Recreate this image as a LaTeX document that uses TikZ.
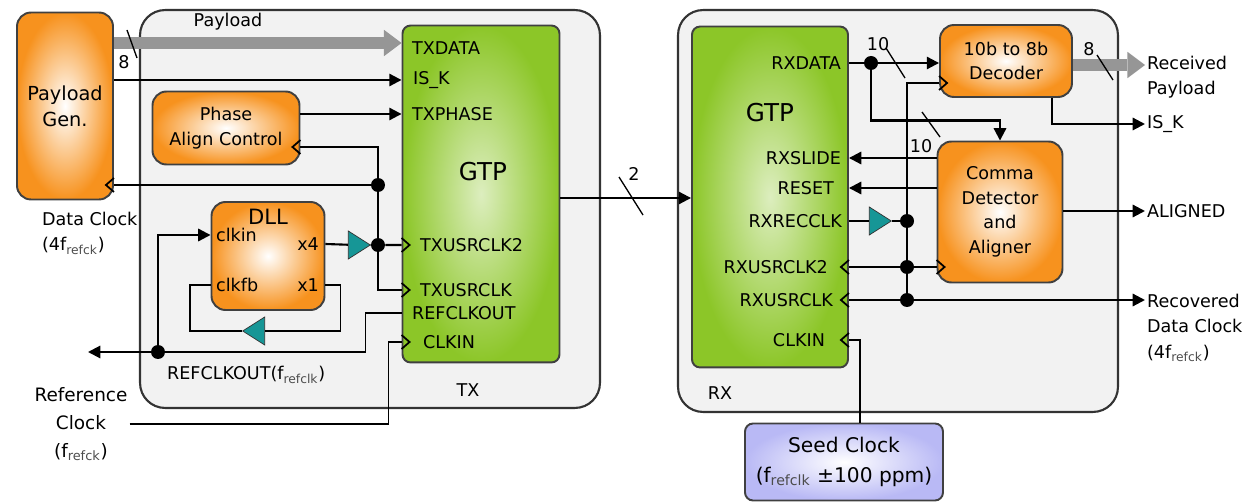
\documentclass[tikz,border=0pt]{standalone}
\usepackage{fontspec}
\setmainfont{DejaVu Sans}
\usetikzlibrary{arrows.meta,shapes.geometric,calc}
\definecolor{boxgray}{RGB}{242,242,242}
\definecolor{blkorange}{RGB}{247,146,30}
\definecolor{gtpgreen}{RGB}{140,198,40}
\definecolor{bufteal}{RGB}{22,150,150}
\definecolor{seedblue}{RGB}{185,185,245}
\definecolor{busgray}{RGB}{150,150,150}
\newcommand\rsub[1]{\textsubscript{\color{black!70}#1}}
\tikzset{
    frame/.style={draw=black!80, line width=1.2pt, fill=boxgray, rounded corners=0.5cm},
    blk/.style={draw=black!75, line width=1.1pt, rounded corners=0.28cm,
        inner color=white, outer color=blkorange, align=center},
    gtp/.style={draw=black!75, line width=1.1pt, rounded corners=0.16cm,
        inner color=white!70!gtpgreen, outer color=gtpgreen},
    seedbox/.style={blk, outer color=seedblue, rounded corners=0.16cm},
    buf/.style={isosceles triangle, isosceles triangle stretches, draw=black!80,
        fill=bufteal, inner sep=0pt, minimum width=0.56cm, minimum height=0.44cm},
    port/.style={inner sep=1pt},
    lbl/.style={inner sep=1pt, align=left, font=\fontsize{10}{14.5}\selectfont},
    sig/.style={line width=1.2pt},
    thinsig/.style={line width=0.85pt},
    arr/.style={sig, -{Triangle[length=7pt,width=7pt]}},
    bus/.style={line width=7pt, draw=busgray, -{Triangle[length=10pt,width=15pt,line width=0pt]}},
    dot/.style={circle, fill=black, inner sep=0pt, minimum size=0.28cm},
    tick/.style={line width=0.75pt},
    clk/.pic={\draw[line width=1pt] (0,-7) -- (8,0) -- (0,7);}
}

\begin{document}
\begin{tikzpicture}[x=0.02cm, y=-0.02cm, font=\fontsize{10}{14}\selectfont]
    \useasboundingbox (0,0) rectangle (1245,503);
    \node[frame, minimum width=9.2cm, minimum height=7.96cm] (txbox) at (370,209) {};
    \node[frame, minimum width=8.8cm, minimum height=8.04cm] (rxbox) at (898,211) {};
    \node (txlbl) at (468,390) {TX};
    \node (rxlbl) at (720,393) {RX};

    % transmitter
    \node[blk, minimum width=1.92cm, minimum height=3.74cm,
        font=\fontsize{11}{15}\selectfont] (gen) at (65,106) {Payload\\Gen.};
    \node[blk, minimum width=2.94cm, minimum height=1.46cm] (phase) at (226,128) {Phase\\Align Control};
    \node[blk, minimum width=2.26cm, minimum height=2.16cm] (dll) at (268,256) {};
    \node[font=\fontsize{12}{14}\selectfont] (dllname) at (268,217) {DLL};
    \node[port, anchor=west] (dllin) at (214,235) {clkin};
    \node[port, anchor=west] (dllfb) at (214,285) {clkfb};
    \node[port, anchor=east] (dllx4) at (321,244) {x4};
    \node[port, anchor=east] (dllx1) at (321,285) {x1};
    \node[gtp, minimum width=3.14cm, minimum height=6.74cm] (txgtp) at (481,194) {};
    \node[font=\fontsize{14}{16}\selectfont] (txname) at (483,172) {GTP};
    \node[port, anchor=west] (txdata) at (410,48) {TXDATA};
    \node[port, anchor=west] (txisk) at (411,80) {IS\_K};
    \node[port, anchor=west] (txphase) at (410,114) {TXPHASE};
    \node[port, anchor=west] (txusr2) at (418,245) {TXUSRCLK2};
    \node[port, anchor=west] (txusr) at (418,290) {TXUSRCLK};
    \node[port, anchor=west] (txref) at (410,313) {REFCLKOUT};
    \node[port, anchor=west] (txclkin) at (421,342) {CLKIN};
    \node[buf] (b1) at (356,245) {};
    \node[buf, shape border rotate=180] (b2) at (257,331) {};

    \node (plbl) at (228,22) {Payload};
    \node[lbl, anchor=north west] (dclk) at (40,210) {Data Clock\\(4f\rsub{refck})};
    \node[lbl, align=center, font=\fontsize{10.5}{16}\selectfont] (refck) at (81,424)
        {Reference\\Clock\\(f\rsub{refck})};
    \node[port, anchor=west] (refolbl) at (165,375) {REFCLKOUT(f\rsub{refclk})};

    \node[dot] (j1) at (378,185) {};
    \node[dot] (j2) at (378,245) {};
    \node[dot] (j3) at (158,352) {};
    \coordinate (pl) at (0,43);
    \coordinate (refo) at (88,352);

    \draw[bus] (gen.east |- pl) -- (txgtp.west |- pl);
    \draw[arr] (gen.east |- txisk) -- (txgtp.west |- txisk);
    \draw[arr] (phase.east |- txphase) -- (txgtp.west |- txphase);
    \draw[sig] (phase.east |- 0,147) -| (j1) -- (j2) |- (txgtp.west |- txusr);
    \draw[sig] (gen.east |- j1) -- (j1);
    \draw[sig] (dll.east |- dllx4) -- (b1) -- (j2) -- (txgtp.west |- j2);
    \draw[thinsig] (dll.east |- dllx1) -- ++(15,0) |- (b2);
    \draw[thinsig] (b2) -- (190,331) |- (dll.west |- dllfb);
    \draw[thinsig] (txgtp.west |- txref) -- ++(-36,0) |- (j3);
    \draw[arr] (j3) -- (refo);
    \draw[arr] (j3) |- (dll.west |- dllin);
    \draw[thinsig] (refck.east) -| ($(txgtp.west |- txclkin)+(-13,0)$) -- (txgtp.west |- txclkin);

    \pic[xscale=-1] at (gen.east |- j1) {clk};
    \pic[xscale=-1] at (phase.east |- 0,147) {clk};
    \pic at (txgtp.west |- txusr2) {clk};
    \pic at (txgtp.west |- txusr) {clk};
    \pic at (txgtp.west |- txclkin) {clk};

    \draw[tick] (127,30) -- (137,58);
    \node (w8a) at (124,62) {8};

    % receiver
    \node[gtp, minimum width=3.12cm, minimum height=6.82cm] (rxgtp) at (770,197) {};
    \node[font=\fontsize{14}{16}\selectfont] (rxname) at (770,113) {GTP};
    \node[port, anchor=east] (rxdata) at (843,63) {RXDATA};
    \node[port, anchor=east] (rxslide) at (843,158) {RXSLIDE};
    \node[port, anchor=east] (rxreset) at (836,188) {RESET};
    \node[port, anchor=east] (rxrec) at (844,221) {RXRECCLK};
    \node[port, anchor=east] (rxusr2) at (830,267) {RXUSRCLK2};
    \node[port, anchor=east] (rxusr) at (835,300) {RXUSRCLK};
    \node[port, anchor=east] (rxclkin) at (827,340) {CLKIN};
    \node[blk, minimum width=2.64cm, minimum height=1.44cm] (dec) at (1006,61) {10b to 8b\\Decoder};
    \node[blk, minimum width=2.5cm, minimum height=2.82cm] (comma) at (1000,212)
        {Comma\\Detector\\and\\Aligner};
    \node[seedbox, minimum width=3.96cm, minimum height=1.54cm,
        font=\fontsize{11.5}{17}\selectfont] (seed) at (844,462)
        {Seed Clock\\(f\rsub{refclk} ±100 ppm)};
    \node[buf] (b3) at (877,221) {};

    % link
    \draw[arr] (txgtp.east |- 0,198) -- (rxgtp.west |- 0,198);
    \draw[tick] (619,177) -- (643,215);
    \node (w2) at (634,174) {2};

    \node[lbl, anchor=north west] (rcvd) at (1145,54) {Received\\Payload};
    \node[lbl, anchor=west] (isk) at (1145,124) {IS\_K};
    \node[lbl, anchor=west] (algn) at (1145,211) {ALIGNED};
    \node[lbl, anchor=north west] (rcclk) at (1145,292) {Recovered\\Data Clock\\(4f\rsub{refck})};

    \node[dot] (j4) at (871,63) {};
    \node[dot] (j6) at (907,221) {};
    \node[dot] (j7) at (907,267) {};
    \node[dot] (j8) at (907,300) {};
    \coordinate (rp) at (0,65);

    \draw[arr] (rxgtp.east |- rxdata) -- (j4) -- (dec.west |- rxdata);
    \draw[arr] (j4) |- ([yshift=0.4cm]comma.north) -- (comma.north);
    \draw[sig] (dec.west |- 0,83) -| (j8);
    \draw[arr] (comma.west |- rxslide) -- (rxgtp.east |- rxslide);
    \draw[arr] (comma.west |- rxreset) -- (rxgtp.east |- rxreset);
    \draw[sig] (rxgtp.east |- rxrec) -- (b3) -- (j6);
    \draw[sig] (rxgtp.east |- j7) -- (j7) -- (comma.west |- j7);
    \draw[arr] (rxgtp.east |- j8) -- (j8) -- (rcclk.west |- j8);
    \draw[thinsig] (seed.north -| 860,0) |- (rxgtp.east |- rxclkin);
    \draw[bus] (dec.east |- rp) -- (rcvd.west |- rp);
    \draw[arr] (dec.south -| 1052,0) |- (isk.west);
    \draw[arr] (comma.east |- algn) -- (algn.west);

    \pic at (dec.west |- 0,83) {clk};
    \pic at (comma.west |- j7) {clk};
    \pic[xscale=-1] at (rxgtp.east |- rxusr2) {clk};
    \pic[xscale=-1] at (rxgtp.east |- rxusr) {clk};
    \pic[xscale=-1] at (rxgtp.east |- rxclkin) {clk};

    \draw[tick] (886,48) -- (905,78);
    \node (w10a) at (878,44) {10};
    \draw[tick] (922,112) -- (940,137);
    \node (w10b) at (921,146) {10};
    \draw[tick] (1097,55) -- (1113,80);
    \node (w8b) at (1089,49) {8};
\end{tikzpicture}
\end{document}
